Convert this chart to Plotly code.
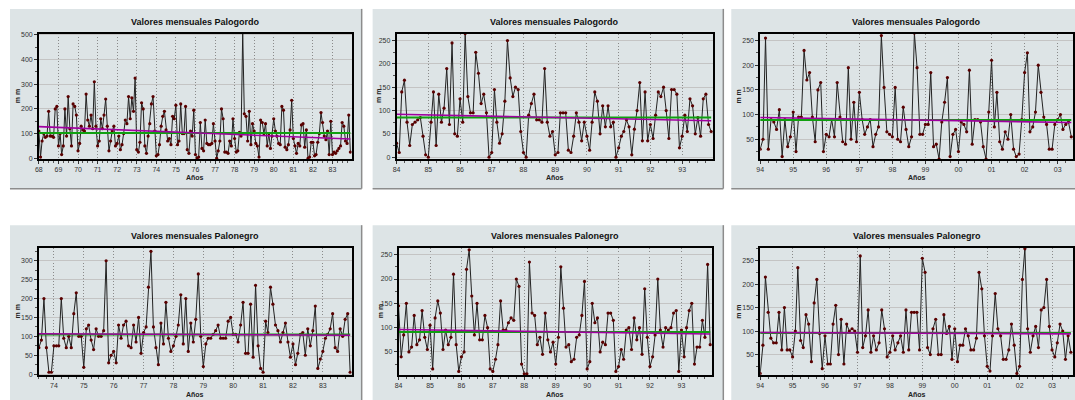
import plotly.graph_objects as go

W, H = 1075, 400

# ---------------- data ----------------
titles = ["Valores mensuales Palogordo"] * 3 + ["Valores mensuales Palonegro"] * 3

# start (year, month) of each monthly series
starts = [(1968, 1), (1984, 1), (1994, 1), (1973, 7), (1984, 1), (1994, 1)]

palogordo_68_83 = [
    110, 5, 70, 100, 85, 90, 190, 90, 90, 85, 200, 210,
    50, 100, 15, 50, 200, 90, 250, 120, 50, 220, 210, 175,
    30, 60, 130, 115, 110, 260, 155, 130, 175, 120, 310, 130,
    50, 70, 160, 120, 175, 240, 130, 30, 70, 110, 130, 50,
    60, 90, 35, 55, 100, 155, 140, 250, 160, 245, 190, 325,
    35, 25, 65, 225, 200, 50, 20, 90, 140, 220, 250, 110,
    10, 15, 55, 130, 170, 190, 115, 70, 80, 55, 170, 160,
    215, 55, 70, 220, 100, 100, 210, 35, 20, 110, 90, 195,
    15, 0, 5, 145, 40, 30, 155, 60, 55, 55, 60, 140,
    70, 0, 30, 70, 200, 160, 25, 25, 20, 70, 50, 160,
    80, 25, 30, 105, 90, 510, 180, 170, 70, 190, 55, 140,
    110, 60, 50, 5, 155, 145, 100, 140, 50, 100, 40, 90,
    160, 110, 90, 60, 55, 210, 195, 45, 35, 55, 115, 235,
    80, 50, 20, 60, 50, 135, 140, 45, 115, 0, 5, 65,
    65, 10, 15, 65, 100, 185, 145, 90, 75, 110, 15, 150,
    15, 25, 20, 30, 40, 50, 145, 130, 70, 60, 175, 25,
]
palogordo_84_93 = [
    30, 10, 140, 165, 75, 25, 70, 75, 80, 85, 45, 5,
    0, 75, 140, 25, 135, 75, 105, 190, 70, 245, 50, 45,
    125, 75, 265, 130, 95, 95, 225, 180, 115, 135, 95, 0,
    10, 145, 75, 30, 50, 120, 250, 170, 130, 150, 145, 55,
    10, 0, 90, 115, 135, 80, 80, 75, 190, 75, 45, 55,
    5, 10, 95, 95, 95, 15, 10, 45, 95, 75, 35, 75,
    45, 15, 75, 140, 120, 50, 110, 65, 110, 65, 75, 0,
    20, 45, 55, 80, 65, 5, 60, 100, 160, 35, 140, 35,
    70, 40, 90, 140, 130, 150, 100, 40, 145, 145, 135, 20,
    45, 90, 55, 125, 110, 50, 85, 45, 125, 135, 70, 55,
]
palogordo_94_03 = [
    30, 50, 255, 30, 90, 85, 70, 110, 15, 90, 35, 55,
    105, 25, 95, 95, 230, 170, 185, 95, 45, 150, 165, 25,
    60, 55, 90, 55, 165, 95, 45, 40, 195, 50, 125, 45,
    145, 90, 60, 75, 90, 35, 60, 75, 260, 155, 65, 60,
    55, 155, 50, 45, 115, 70, 35, 55, 265, 195, 60, 60,
    80, 80, 185, 35, 40, 10, 85, 125, 175, 15, 60, 70,
    25, 85, 80, 65, 190, 40, 90, 90, 85, 35, 10, 105,
    210, 75, 145, 45, 30, 65, 50, 100, 30, 15, 20, 90,
    185, 225, 65, 75, 105, 200, 145, 95, 80, 30, 30, 80,
    90, 100, 70, 80, 85, 55,
]
palonegro_73_83 = [
    70, 90, 200, 70, 5, 5,
    75, 75, 75, 200, 95, 70, 100, 70, 160, 215, 100, 100,
    18, 120, 130, 90, 65, 120, 100, 100, 115, 300, 30, 50,
    60, 30, 130, 95, 130, 140, 75, 70, 130, 85, 150, 55,
    110, 125, 230, 325, 125, 70, 25, 135, 80, 190, 95, 60,
    75, 100, 130, 210, 80, 200, 60, 135, 85, 145, 265, 100,
    20, 80, 95, 95, 105, 115, 130, 95, 95, 95, 140, 150,
    105, 105, 85, 130, 190, 55, 55, 185, 45, 235, 75, 15,
    5, 140, 110, 230, 185, 130, 115, 85, 110, 135, 85, 45,
    80, 25, 55, 105, 110, 50, 120, 75, 115, 180, 15, 40,
    60, 95, 105, 120, 160, 70, 60, 120, 100, 145, 160, 5,
]
palonegro_84_93 = [
    145, 40, 85, 150, 50, 60, 125, 65, 75, 135, 80, 55,
    105, 15, 120, 155, 130, 55, 95, 65, 80, 210, 65, 10,
    40, 50, 220, 260, 165, 85, 150, 75, 75, 125, 100, 15,
    10, 35, 65, 155, 95, 95, 110, 120, 115, 200, 185, 25,
    5, 5, 235, 130, 125, 65, 80, 45, 130, 75, 50, 70,
    25, 80, 225, 140, 60, 65, 30, 35, 80, 85, 125, 195,
    15, 30, 150, 110, 120, 50, 70, 65, 130, 130, 115, 10,
    20, 55, 35, 95, 100, 55, 120, 75, 100, 45, 180, 80,
    20, 40, 85, 200, 95, 60, 100, 95, 100, 130, 135, 10,
    95, 40, 100, 135, 150, 25, 60, 60, 115, 80, 230, 65,
]
palonegro_94_03 = [
    10, 70, 215, 140, 85, 75, 75, 140, 60, 150, 60, 60,
    45, 100, 235, 80, 65, 135, 115, 35, 160, 210, 95, 20,
    90, 30, 30, 115, 155, 50, 125, 30, 115, 100, 105, 100,
    55, 260, 65, 90, 145, 55, 90, 60, 75, 145, 105, 45,
    55, 90, 60, 75, 90, 55, 145, 60, 140, 140, 140, 60,
    255, 225, 65, 50, 105, 125, 50, 50, 135, 95, 110, 40,
    105, 35, 70, 70, 105, 90, 60, 60, 85, 225, 190, 90,
    25, 15, 90, 180, 105, 90, 40, 40, 60, 115, 70, 10,
    25, 210, 275, 105, 55, 90, 110, 65, 145, 150, 210, 110,
    60, 45, 75, 115, 100, 40, 90, 55,
]
series = [palogordo_68_83, palogordo_84_93, palogordo_94_03,
          palonegro_73_83, palonegro_84_93, palonegro_94_03]

# mean (green) and trend (magenta) levels
mean_vals = [102, 85, 89, 105, 91, 96]
trend_start = [128, 92, 94, 107, 96, 97]
trend_end = [78, 78, 84, 103, 87, 94]

# axis ranges
x_ranges = [("1968-01-01", "1983-12-26"), ("1984-01-01", "1993-12-26"),
            ("1994-01-01", "2003-06-20"), ("1973-07-01", "1983-12-20"),
            ("1984-01-01", "1993-12-26"), ("1994-01-01", "2003-08-25")]
y_ranges = [(-3, 505), (-4, 265), (10, 264), (-3, 334), (2, 264), (6, 277)]
y_dticks = [100, 50, 50, 50, 50, 50]

# ---------------- layout geometry (pixels) ----------------
plots_px = [(35, 349, 32, 159), (394, 712, 32, 159), (759, 1073, 32, 159),
            (35, 349, 249, 378), (396, 711, 249, 378), (759, 1073, 249, 378)]
frames_px = [(6, 359, 7, 189), (370, 722, 7, 189), (730, 1085, 7, 189),
             (6, 359, 226, 410), (370, 722, 226, 410), (730, 1085, 226, 410)]
ylab_x = [13, 376, 737, 14, 378, 737]

FONT = "Liberation Sans Narrow, Arial Narrow, Liberation Sans, sans-serif"


def px_x(x):
    return x / W


def px_y(y):
    return 1 - y / H


def month_dates(start, count):
    y, m = start
    out = []
    for _ in range(count):
        out.append(f"{y:04d}-{m:02d}-01")
        m += 1
        if m > 12:
            m = 1
            y += 1
    return out


fig = go.Figure()
shapes = []
annotations = []

for i in range(6):
    n = i + 1
    xa = "x" if n == 1 else f"x{n}"
    ya = "y" if n == 1 else f"y{n}"
    vals = series[i]
    xs = month_dates(starts[i], len(vals))

    # data
    fig.add_trace(go.Scatter(x=xs, y=vals, mode="lines+markers",
                             line=dict(color="#222222", width=1),
                             marker=dict(size=3.2, color="#5a0000"),
                             xaxis=xa, yaxis=ya, showlegend=False))
    # mean line (green)
    fig.add_trace(go.Scatter(x=[xs[0], xs[-1]], y=[mean_vals[i], mean_vals[i]], mode="lines",
                             line=dict(color="#10a010", width=2), xaxis=xa, yaxis=ya,
                             showlegend=False))
    # trend line (magenta)
    fig.add_trace(go.Scatter(x=[xs[0], xs[-1]], y=[trend_start[i], trend_end[i]], mode="lines",
                             line=dict(color="#a000a0", width=1.6), xaxis=xa, yaxis=ya,
                             showlegend=False))

    l, r, t, b = plots_px[i]
    fig.layout[f"xaxis{'' if n == 1 else n}"] = dict(
        type="date", domain=[px_x(l), px_x(r)], range=list(x_ranges[i]), anchor=ya,
        tickmode="linear", tick0="1960-01-01", dtick="M12", tickformat="%y",
        tickfont=dict(size=7, color="#333333", family=FONT),
        showgrid=True, gridcolor="#8a8a8a", griddash="1px,2px", gridwidth=1,
        showline=True, linecolor="black", linewidth=1.5, mirror=True,
        ticks="outside", ticklen=3, tickcolor="#333333",
        minor=dict(ticks="outside", ticklen=2, dtick="M3", tickcolor="#555555", showgrid=False),
        zeroline=False, fixedrange=True,
    )
    fig.layout[f"yaxis{'' if n == 1 else n}"] = dict(
        domain=[px_y(b), px_y(t)], range=list(y_ranges[i]), anchor=xa,
        dtick=y_dticks[i], tick0=0, tickfont=dict(size=7, color="#333333", family=FONT),
        showgrid=True, gridcolor="#c4c4c4", gridwidth=1,
        showline=True, linecolor="black", linewidth=1.5, mirror=True,
        ticks="outside", ticklen=3, tickcolor="#333333",
        minor=dict(ticks="outside", ticklen=2, dtick=y_dticks[i] / 2, tickcolor="#555555",
                   showgrid=False),
        zeroline=False, fixedrange=True,
    )

    # frame
    fl, fr, ft, fb = frames_px[i]
    shapes.append(dict(type="rect", xref="paper", yref="paper", layer="below",
                       x0=px_x(fl), x1=px_x(fr), y0=px_y(fb), y1=px_y(ft),
                       fillcolor="#dde4e6", line=dict(width=0)))
    shapes.append(dict(type="line", xref="paper", yref="paper", layer="below",
                       x0=px_x(fr), x1=px_x(fr), y0=px_y(fb), y1=px_y(ft),
                       line=dict(color="#8c8c8c", width=1.5)))
    shapes.append(dict(type="line", xref="paper", yref="paper", layer="below",
                       x0=px_x(fl), x1=px_x(fr), y0=px_y(fb), y1=px_y(fb),
                       line=dict(color="#8c8c8c", width=1.5)))

    # texts
    annotations.append(dict(text=f"<b>{titles[i]}</b>", xref="paper", yref="paper",
                            x=px_x((l + r) / 2), y=px_y(t - 12), showarrow=False,
                            font=dict(size=9, color="#111111", family=FONT),
                            xanchor="center", yanchor="middle"))
    annotations.append(dict(text="<b>Años</b>", xref="paper", yref="paper",
                            x=px_x((l + r) / 2), y=px_y(b + 19), showarrow=False,
                            font=dict(size=7, color="#222222", family=FONT),
                            xanchor="center", yanchor="middle"))
    annotations.append(dict(text="<b>m m</b>", xref="paper", yref="paper",
                            x=px_x(ylab_x[i]), y=px_y((t + b) / 2), showarrow=False, textangle=-90,
                            font=dict(size=7, color="#222222", family=FONT),
                            xanchor="center", yanchor="middle"))

fig.update_layout(
    width=W, height=H, margin=dict(l=0, r=0, t=0, b=0),
    paper_bgcolor="white", plot_bgcolor="#ffffe6",
    shapes=shapes, annotations=annotations, showlegend=False,
    font=dict(family=FONT),
)

fig.write_html("out.html", config={"displayModeBar": False})
